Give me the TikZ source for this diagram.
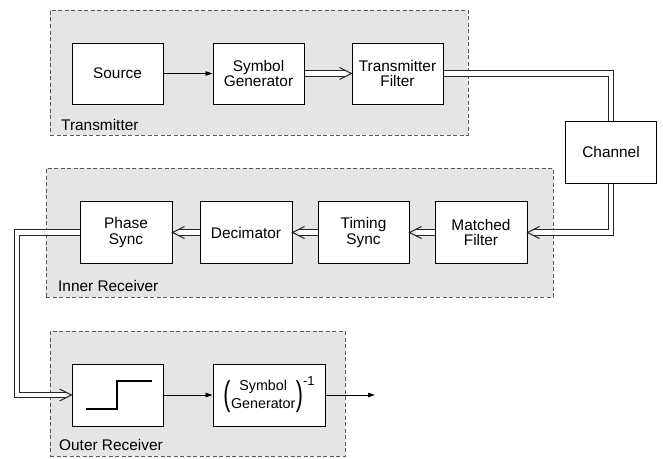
\documentclass[tikz,border=0pt]{standalone}
\usepackage{fontspec}
\setmainfont{Liberation Sans}
\usetikzlibrary{arrows.meta}
\begin{document}
\begin{tikzpicture}[x=1pt,y=-1pt,
  font=\fontsize{15.4}{15.5}\selectfont,
  group/.style={draw=black!65, dash pattern=on 4pt off 2.5pt, fill=black!10, line width=0.9pt, inner sep=0pt},
  block/.style={draw=black, fill=white, line width=1pt, minimum width=91pt, minimum height=61pt, align=center, inner sep=0pt},
  sig/.style={draw=black, line width=0.9pt, -{Triangle[length=7pt,width=4.5pt]}},
  dblline/.style={draw=black!85, line width=1.1pt, double=white, double distance=4.6pt},
  dbl/.style={dblline, shorten >=6pt},
  vtip/.style={draw=black!85, line width=1.1pt, line join=miter},
  vhead/.pic={\draw[vtip] (-12,-6) -- (0,0) -- (-12,6);},
  grplabel/.style={anchor=base west, inner sep=0pt}
]
\useasboundingbox (0,0) rectangle (663,458);
% groups
\node[group, minimum width=418pt, minimum height=125pt] (txg) at (259,72.5) {};
\node[group, minimum width=507pt, minimum height=129pt] (irg) at (299.5,232.5) {};
\node[group, minimum width=295pt, minimum height=125pt] (org) at (197.5,393.5) {};
\node[grplabel] (txl) at (61,130) {Transmitter};
\node[grplabel] (irl) at (58,291) {Inner Receiver};
\node[grplabel] (orl) at (59,450) {Outer Receiver};
% blocks
\node[block] (src) at (117.5,73.5) {Source};
\node[block] (sg) at (258.5,73.5) {Symbol\\Generator};
\node[block] (tf) at (397.5,73.5) {Transmitter\\Filter};
\node[block, minimum height=62pt] (ch) at (611,152) {Channel};
\node[block, minimum width=92pt, minimum height=62pt] (mf) at (481,232.5) {Matched\\Filter};
\node[block, minimum height=62pt] (ts) at (363.5,232.5) {Timing\\Sync};
\node[block, minimum width=92pt, minimum height=62pt] (dec) at (246,232.5) {Decimator};
\node[block, minimum width=92pt, minimum height=62pt] (ps) at (126,232.5) {Phase\\Sync};
\node[block, minimum height=62pt] (q) at (117.5,395) {};
\node[block, minimum width=112pt, minimum height=62pt] (sgi) at (269,395)
  {\fontsize{14.3}{17.5}\selectfont
   \raisebox{-5.5pt}{\scalebox{1.5}[2.4]{(}}\hspace{0.5pt}\begin{tabular}{@{}c@{}}Symbol\\Generator\end{tabular}\hspace{0.5pt}\raisebox{-5.5pt}{\scalebox{1.5}[2.4]{)}}\raisebox{14.5pt}{\fontsize{13}{13}\selectfont -1}};
\draw[line width=1.8pt, shift={(q.center)}] (-31.5,14) -- (-0.8,14) -- (-0.8,-14) -- (34,-14);
\coordinate (bend) at (17,232.5);
\coordinate (out) at (375,395);
% connectors
\draw[sig] (src) -- (sg);
\draw[dbl] (sg) -- (tf);
\pic at (tf.west) {vhead};
\draw[dblline] (tf.east) -| (ch.north);
\draw[dbl] (ch.south) |- (mf.east);
\pic[rotate=180] at (mf.east) {vhead};
\draw[dbl] (mf) -- (ts);
\pic[rotate=180] at (ts.east) {vhead};
\draw[dbl] (ts) -- (dec);
\pic[rotate=180] at (dec.east) {vhead};
\draw[dbl] (dec) -- (ps);
\pic[rotate=180] at (ps.east) {vhead};
\draw[dbl] (ps.west) -- (bend) |- (q.west);
\pic at (q.west) {vhead};
\draw[sig] (q) -- (sgi);
\draw[sig] (sgi.east) -- (out);
\end{tikzpicture}
\end{document}
